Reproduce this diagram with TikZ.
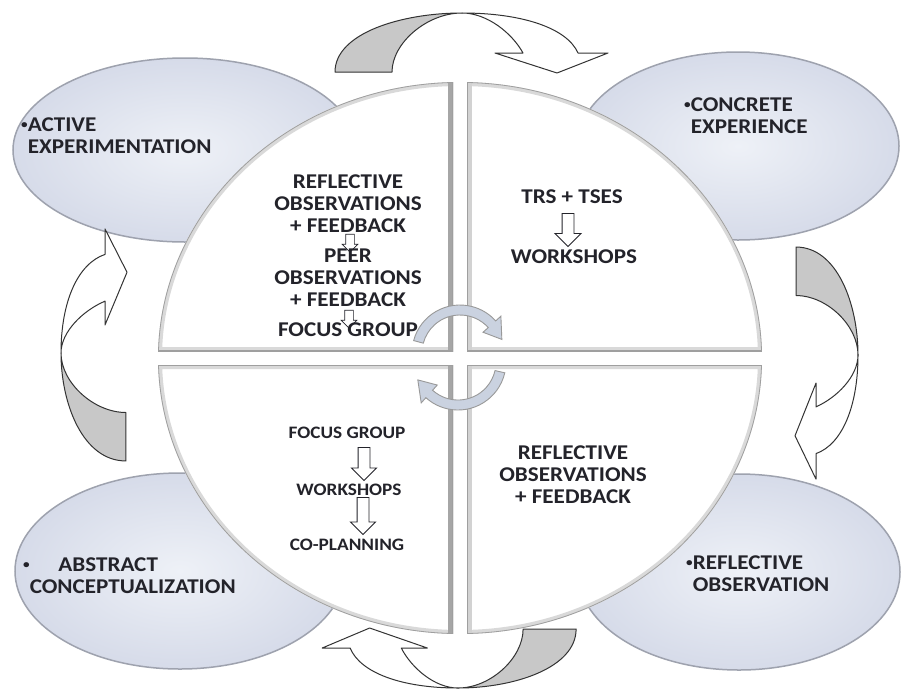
\documentclass[tikz,border=0pt]{standalone}
\usepackage{fontspec}
\setmainfont{Carlito}
\usetikzlibrary{shapes.arrows}

\definecolor{stagein}{RGB}{238,241,247}
\definecolor{stageout}{RGB}{214,219,233}
\definecolor{stageedge}{RGB}{158,162,174}
\definecolor{turnfill}{RGB}{202,210,224}
\definecolor{backfill}{RGB}{200,200,200}
\definecolor{ink}{RGB}{35,35,42}

% small bullet in front of each stage name
\newcommand{\stagedot}{\raisebox{3pt}{\fontsize{12}{12}\selectfont\textbullet}}

\begin{document}
\begin{tikzpicture}[x=1pt,y=-1pt,
  stage/.style={draw=stageedge,line width=1.5pt,inner color=stagein,outer color=stageout},
  stagetext/.style={font=\bfseries\fontsize{21}{22}\selectfont,text=ink,align=left,inner sep=0pt,anchor=west,xscale=1.1},
  quadtext/.style={font=\bfseries\fontsize{21}{22}\selectfont,text=ink,align=center,inner sep=0pt,xscale=1.1},
  quadsmall/.style={quadtext,font=\bfseries\fontsize{17.5}{19}\selectfont},
  flowarrow/.style={single arrow,draw=ink,fill=white,line width=0.9pt,rotate=-90,single arrow head indent=0pt,inner sep=5.5pt,single arrow head extend=7pt,minimum height=33pt},
  smallflow/.style={flowarrow,inner sep=4pt,single arrow head extend=3.5pt,minimum height=18pt,line width=0.7pt},
  turn/.style={draw=gray!80,line width=0.9pt,fill=turnfill},
  backpart/.style={draw=black!80,line width=1pt,fill=backfill,line join=round},
  frontpart/.style={draw=black!80,line width=1pt,fill=white,line join=round}]

\fill[white] (0,0) rectangle (901,691);
\useasboundingbox (0,0) rectangle (901,691);

% four stages of the cycle
\foreach \cx/\cy/\rx/\ry in {185/150/172/92, 738/146/161/94, 180/571/165/98, 739/572/161/98}
  \draw[stage] (\cx,\cy) ellipse [x radius=\rx,y radius=\ry];

% big disc cut in four
\foreach \xa/\ya/\xb/\yb/\ex/\edge in {150/70/453/351/453/gray!70, 467/70/770/351/467/gray!35, 150/365/453/645/453/gray!70, 467/365/770/645/467/gray!35}{
  \begin{scope}
    \clip (\xa,\ya) rectangle (\xb,\yb);
    \clip (460,358) ellipse [x radius=302,y radius=276];
    \fill[white] (\xa,\ya) rectangle (\xb,\yb);
    \draw[gray!30,line width=8pt] (460,358) ellipse [x radius=302,y radius=276] (\xa,\ya) rectangle (\xb,\yb);
    \draw[\edge,line width=10pt] (\ex,60) -- (\ex,660);
    \draw[gray!75,line width=1.6pt] (460,358) ellipse [x radius=302,y radius=276] (\xa,\ya) rectangle (\xb,\yb);
  \end{scope}
}

% curved arrows between the stages
\foreach \ax/\ay/\spin/\sx/\sy in {462/13/0/1/1, 858/355/-90/.85/1.05, 458/688/180/.93/1, 61/353/90/.85/1.1}{
  \begin{scope}[shift={(\ax,\ay)},rotate=\spin,xscale=\sx,yscale=\sy]
    \draw[backpart] (-127,59) .. controls (-127,20) and (-60,0) .. (0,0) .. controls (-35,0) and (-70,30) .. (-70,59) -- cycle;
    \draw[frontpart] (0,0) .. controls (60,0) and (105,15) .. (116,40) -- (146,40) -- (95,60) -- (33,40) -- (61,40) .. controls (50,20) and (25,0) .. (0,0) -- cycle;
  \end{scope}
}

% turning arrows in the middle
\begin{scope}[shift={(460,353)}]
  \draw[turn] (195:48) arc[start angle=195,end angle=318,radius=48] -- (318:55) -- (342:44) -- (318:31) -- (318:38) arc[start angle=318,end angle=195,radius=38] -- cycle;
\end{scope}
\begin{scope}[shift={(458,362)}]
  \draw[turn] (13:48) arc[start angle=13,end angle=132,radius=48] -- (132:55) -- (156:44) -- (132:31) -- (132:38) arc[start angle=132,end angle=13,radius=38] -- cycle;
\end{scope}

% stage labels
\node[stagetext] (active) at (21,136) {\stagedot ACTIVE\\\phantom{\stagedot}EXPERIMENTATION};
\node[stagetext] (concrete) at (684,116) {\stagedot CONCRETE\\\phantom{\stagedot}EXPERIENCE};
\node[stagetext] (abstract) at (23,576) {\stagedot\hspace{26pt}ABSTRACT\\\phantom{\stagedot}CONCEPTUALIZATION};
\node[stagetext] (reflobs) at (686,574) {\stagedot REFLECTIVE\\\phantom{\stagedot}OBSERVATION};

% top left quarter
\node[smallflow] (stepa) at (350,241) {};
\node[smallflow] (stepb) at (349,317) {};
\node[quadtext] (reflfb) at (348,204) {REFLECTIVE\\OBSERVATIONS\\+ FEEDBACK};
\node[quadtext] (peerfb) at (348,278) {PEER\\OBSERVATIONS\\+ FEEDBACK};
\node[quadtext] (focusa) at (348,330) {FOCUS GROUP};

% top right quarter
\node[quadtext] (trs) at (572,197) {TRS + TSES};
\node[flowarrow] (trsdown) at (568,227) {};
\node[quadtext] (wsa) at (574,257) {WORKSHOPS};

% bottom right quarter
\node[quadtext] (reflfbb) at (573,475) {REFLECTIVE\\OBSERVATIONS\\+ FEEDBACK};

% bottom left quarter
\node[quadsmall] (focusb) at (347,433) {FOCUS GROUP};
\node[flowarrow,single arrow head extend=6.5pt] (stepc) at (364,461) {};
\node[quadsmall] (wsb) at (349,490) {WORKSHOPS};
\node[flowarrow,single arrow head extend=6.5pt,minimum height=37pt] (stepd) at (363,513) {};
\node[quadsmall] (coplan) at (347,545) {CO-PLANNING};
\end{tikzpicture}
\end{document}
